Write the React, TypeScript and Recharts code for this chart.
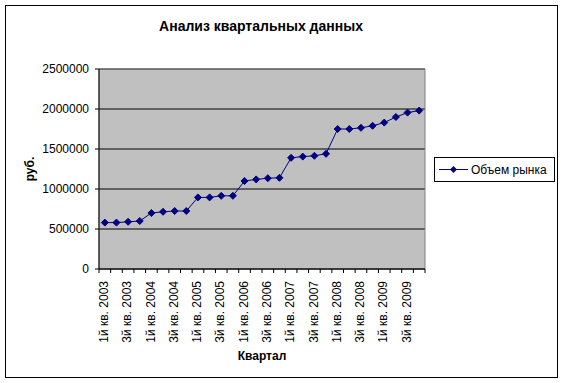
import React from "react";
import {
  CartesianGrid,
  Legend,
  Line,
  LineChart,
  ReferenceArea,
  XAxis,
  YAxis,
} from "recharts";

const quarters = [
  "1й кв. 2003", "2й кв. 2003", "3й кв. 2003", "4й кв. 2003",
  "1й кв. 2004", "2й кв. 2004", "3й кв. 2004", "4й кв. 2004",
  "1й кв. 2005", "2й кв. 2005", "3й кв. 2005", "4й кв. 2005",
  "1й кв. 2006", "2й кв. 2006", "3й кв. 2006", "4й кв. 2006",
  "1й кв. 2007", "2й кв. 2007", "3й кв. 2007", "4й кв. 2007",
  "1й кв. 2008", "2й кв. 2008", "3й кв. 2008", "4й кв. 2008",
  "1й кв. 2009", "2й кв. 2009", "3й кв. 2009", "4й кв. 2009",
];

const marketVolume = [
  580000, 580000, 590000, 600000,
  700000, 715000, 725000, 725000,
  895000, 895000, 915000, 915000,
  1100000, 1120000, 1135000, 1140000,
  1390000, 1405000, 1415000, 1440000,
  1750000, 1750000, 1765000, 1790000,
  1830000, 1900000, 1955000, 1980000,
];

const yTicks = [0, 500000, 1000000, 1500000, 2000000, 2500000];

const data = quarters.map((q, i) => ({ q, v: marketVolume[i] }));

const font = "'Liberation Sans', Arial, sans-serif";
const navy = "#000080";

// plot box, same as the excel one
const plotLeft = 99;
const plotRight = 425;
const plotTop = 69;
const plotBottom = 269;
const band = (plotRight - plotLeft) / quarters.length;
const legendW = 121;

function diamond(cx: number, cy: number, r: number) {
  return `M${cx},${cy - r}L${cx + r},${cy}L${cx},${cy + r}L${cx - r},${cy}Z`;
}

function QuarterTick(props: any) {
  const { x, y, payload, index } = props;
  const last = index === quarters.length - 1;
  return (
    <g>
      <line x1={x - band / 2} x2={x - band / 2} y1={y} y2={y + 4} stroke="#000" />
      {last && (
        <line x1={x + band / 2} x2={x + band / 2} y1={y} y2={y + 4} stroke="#000" />
      )}
      {index % 2 === 0 && (
        <text
          x={x - 1}
          y={y + 12}
          transform={`rotate(-90 ${x - 1} ${y + 12})`}
          textAnchor="end"
          dy="0.35em"
          fontSize={12}
          fontFamily={font}
          fill="#000"
        >
          {payload.value}
        </text>
      )}
    </g>
  );
}

function MarketDot(props: any) {
  const { cx, cy, index } = props;
  return <path key={`dot-${index}`} d={diamond(cx, cy, 3.5)} fill={navy} stroke={navy} />;
}

function LegendBox() {
  return (
    <div
      style={{
        border: "1px solid #000",
        width: 119,
        height: 23,
        display: "flex",
        alignItems: "center",
        background: "#fff",
        fontSize: 12,
        fontFamily: font,
        color: "#000",
      }}
    >
      <svg width={36} height={23}>
        <line x1={4} x2={33} y1={11.5} y2={11.5} stroke={navy} />
        <path d={diamond(18.5, 11.5, 3.5)} fill={navy} />
      </svg>
      <span>Объем рынка</span>
    </div>
  );
}

export default function App() {
  return (
    <div style={{ position: "relative", width: 564, height: 383, background: "#fff", fontFamily: font }}>
      <style>{"body{margin:0}"}</style>
      <div
        style={{
          position: "absolute",
          left: 5,
          top: 5,
          width: 551,
          height: 371,
          border: "1px solid #000",
        }}
      />
      <div
        style={{
          position: "absolute",
          left: 0,
          top: 18,
          width: 522,
          textAlign: "center",
          fontWeight: "bold",
          fontSize: 14,
          lineHeight: "16px",
          color: "#000",
        }}
      >
        Анализ квартальных данных
      </div>
      <LineChart
        width={564}
        height={383}
        data={data}
        // legend width gets added to the right offset by recharts
        margin={{ top: plotTop, right: 564 - plotRight - legendW, left: 0, bottom: 0 }}
        style={{ position: "absolute", left: 0, top: 0 }}
      >
        <CartesianGrid vertical={false} stroke="#000" fill="#c0c0c0" fillOpacity={1} />
        <ReferenceArea y1={0} y2={2500000} fill="none" stroke="#808080" />
        <XAxis
          dataKey="q"
          scale="band"
          interval={0}
          height={383 - plotBottom}
          tickSize={0}
          tickMargin={0}
          tickLine={false}
          axisLine={{ stroke: "#000" }}
          tick={<QuarterTick />}
          label={{
            content: ({ viewBox }: any) => (
              <text
                x={viewBox.x + viewBox.width / 2}
                y={viewBox.y + 91}
                textAnchor="middle"
                fontSize={12}
                fontWeight="bold"
                fontFamily={font}
                fill="#000"
              >
                Квартал
              </text>
            ),
          }}
        />
        <YAxis
          width={plotLeft}
          domain={[0, 2500000]}
          ticks={yTicks}
          interval={0}
          tickSize={4}
          tickMargin={6}
          axisLine={{ stroke: "#000" }}
          tickLine={{ stroke: "#000" }}
          tick={{ fontSize: 12, fill: "#000", fontFamily: font }}
          label={{
            content: ({ viewBox }: any) => {
              const x = viewBox.x + 30;
              const y = viewBox.y + viewBox.height / 2;
              return (
                <text
                  x={x}
                  y={y}
                  transform={`rotate(-90 ${x} ${y})`}
                  textAnchor="middle"
                  dy="0.35em"
                  fontSize={12}
                  fontWeight="bold"
                  fontFamily={font}
                  fill="#000"
                >
                  руб.
                </text>
              );
            },
          }}
        />
        <Legend
          layout="horizontal"
          verticalAlign="middle"
          align="right"
          content={<LegendBox />}
          wrapperStyle={{ left: 434, top: 157, right: "auto", width: legendW, height: 25 }}
        />
        <Line
          type="linear"
          dataKey="v"
          name="Объем рынка"
          stroke={navy}
          strokeWidth={1}
          dot={MarketDot}
          activeDot={false}
          isAnimationActive={false}
        />
      </LineChart>
    </div>
  );
}
